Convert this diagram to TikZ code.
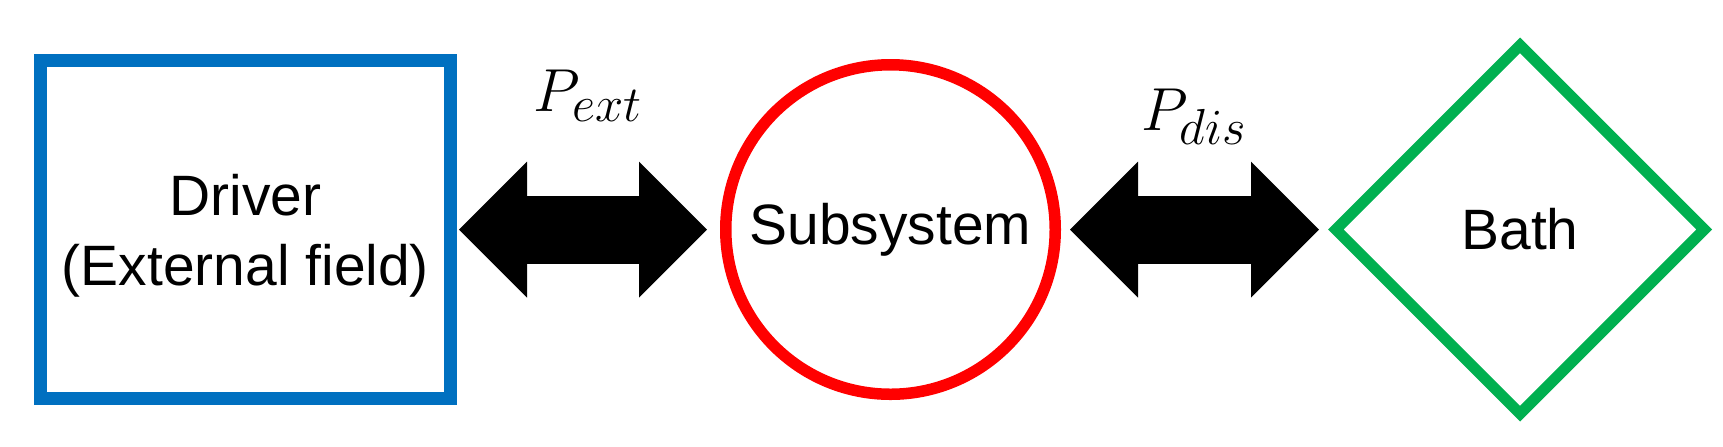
\documentclass[tikz,border=0pt]{standalone}
\usepackage{fontspec}
\setmainfont{Liberation Sans}
\usetikzlibrary{arrows.meta, positioning, shapes.geometric}

\definecolor{drvblue}{HTML}{0070C0}
\definecolor{subred}{HTML}{FF0000}
\definecolor{bathgreen}{HTML}{00B050}
\DeclareMathSizes{18}{18}{15.3}{12}

\begin{document}
\begin{tikzpicture}[
    block/.style={rectangle, draw=drvblue, line width=0.13cm, minimum width=4.1cm, minimum height=3.38cm, align=center, inner sep=0pt, text depth=0pt, font=\fontsize{16.2}{19.9}\selectfont},
    system/.style={circle, draw=subred, line width=0.115cm, minimum size=3.295cm, inner sep=0pt, font=\fontsize{16.2}{19.9}\selectfont},
    reservoir/.style={diamond, draw=bathgreen, line width=0.11cm, minimum size=3.73cm, inner sep=0pt, font=\fontsize{16.2}{19.9}\selectfont},
    flow/.style={line width=0.68cm, {Triangle[length=0.68cm, width=1.36cm, line width=0pt]}-{Triangle[length=0.68cm, width=1.36cm, line width=0pt]}},
    power/.style={midway, anchor=base, inner sep=0pt, font=\fontsize{18}{22}\selectfont}
]
\useasboundingbox (0,0) rectangle (17.23,4.46);

% ==== Driver ====
\node[block] (driver) at (2.455,2.165) {Driver\\(External field)};

% ==== Subsystem ====
\node[system, right=2.63cm of driver] (subsys) {Subsystem};

% ==== Bath ====
\node[reservoir, right=2.67cm of subsys] (bath) {Bath};

% ==== Power flows ====
\draw[flow, shorten <=0.02cm, shorten >=0.13cm] (driver) -- (subsys) node[power, yshift=1.185cm] {$P_{ext}$};
\draw[flow, shorten <=0.09cm, shorten >=0.09cm] (subsys) -- (bath) node[power, yshift=0.995cm] {$P_{dis}$};

\end{tikzpicture}
\end{document}
